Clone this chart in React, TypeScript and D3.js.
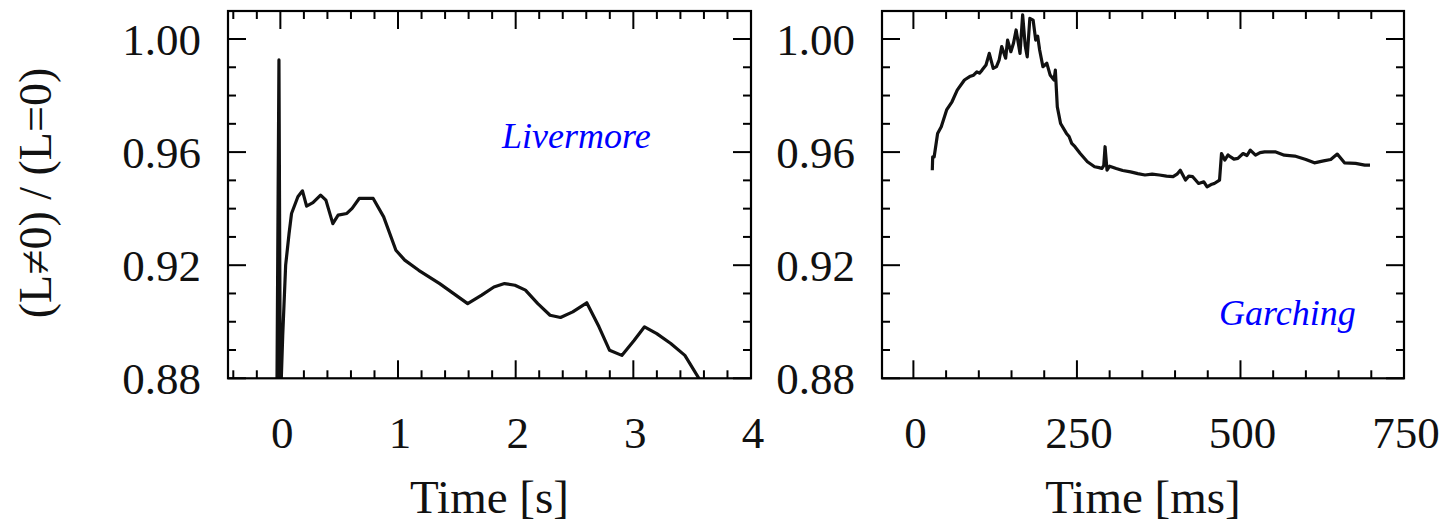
import React from "react";
import * as d3 from "d3";

// ---------- data ----------
const livermoreT = [-0.03, -0.012, 0.0, 0.02, 0.045, 0.074, 0.095, 0.149, 0.188, 0.223, 0.277, 0.342, 0.387, 0.446, 0.491, 0.565, 0.61, 0.67, 0.789, 0.878, 0.982, 1.057, 1.176, 1.354, 1.592, 1.711, 1.815, 1.905, 1.994, 2.083, 2.188, 2.292, 2.381, 2.485, 2.604, 2.708, 2.798, 2.902, 3.006, 3.095, 3.199, 3.318, 3.438, 3.557, 3.6];
const livermoreV = [0.87, 0.9926, 0.87, 0.895, 0.92, 0.9312, 0.9383, 0.9442, 0.9463, 0.9409, 0.9421, 0.9448, 0.943, 0.9347, 0.9377, 0.9383, 0.9401, 0.9436, 0.9436, 0.9371, 0.9253, 0.9218, 0.9182, 0.9135, 0.9064, 0.9094, 0.9123, 0.9135, 0.9129, 0.9112, 0.9064, 0.9023, 0.9015, 0.9035, 0.9067, 0.8982, 0.8899, 0.8881, 0.8934, 0.8982, 0.8958, 0.8923, 0.8881, 0.88, 0.875];

const garchingT = [28.9, 29.5, 31.7, 37, 42.6, 50.8, 59, 67, 78, 86, 92, 97, 101, 105, 111, 116, 122, 127, 131, 135, 141, 144, 149, 153, 157, 163, 167, 171, 174, 178, 183, 187, 190, 193, 198, 204, 209, 215, 217, 220, 225, 234, 238, 242, 247, 255, 266, 277, 284, 288, 291, 293, 296, 300, 310, 320, 332, 343, 354, 365, 376, 387, 397, 403, 408, 416, 421, 427, 436, 444, 449, 455, 460, 468, 471, 476, 481, 485, 490, 496, 504, 510, 515, 523, 530, 537, 553, 567, 583, 600, 613, 627, 638, 648, 659, 676, 690, 698];
const garchingV = [0.9536, 0.9583, 0.9583, 0.9666, 0.969, 0.9749, 0.9778, 0.9819, 0.9855, 0.9867, 0.9872, 0.9884, 0.9879, 0.989, 0.9908, 0.9949, 0.9896, 0.9902, 0.9925, 0.9973, 0.9932, 0.9996, 0.9955, 0.9985, 1.0032, 0.9949, 1.0085, 0.9975, 0.9937, 1.0073, 1.0067, 0.9996, 1.001, 0.9961, 0.9902, 0.9914, 0.9873, 0.9855, 0.989, 0.976, 0.9701, 0.9666, 0.9655, 0.9631, 0.9619, 0.9595, 0.9566, 0.9548, 0.9545, 0.9542, 0.9552, 0.9619, 0.9536, 0.955, 0.9542, 0.9535, 0.953, 0.9524, 0.9519, 0.9522, 0.9519, 0.9515, 0.9513, 0.9522, 0.9536, 0.9501, 0.9515, 0.9513, 0.9489, 0.9495, 0.9477, 0.9485, 0.9489, 0.9501, 0.9595, 0.9572, 0.959, 0.9583, 0.9575, 0.9578, 0.9595, 0.9588, 0.9607, 0.9589, 0.9598, 0.9601, 0.9601, 0.9589, 0.9586, 0.9574, 0.9562, 0.9569, 0.9574, 0.9593, 0.9562, 0.956, 0.9554, 0.9554];

const yTickLabels = ["0.88", "0.92", "0.96", "1.00"];
const leftXTickLabels = ["0", "1", "2", "3", "4"];
const rightXTickLabels = ["0", "250", "500", "750"];
const yTitle = "(L\u22600) / (L=0)";
const leftXTitle = "Time [s]";
const rightXTitle = "Time [ms]";
const leftName = "Livermore";
const rightName = "Garching";

// ---------- layout ----------
const TOP = 11;
const BOTTOM = 378.3;
const FONT = "'Liberation Serif', 'DejaVu Serif', serif";

type PanelProps = {
  x0: number;
  x1: number;
  domain: [number, number];
  majors: number[];
  minors: number[];
  xLabels: string[];
  t: number[];
  v: number[];
  title: string;
  name: string;
  nameX: number;
  nameY: number;
  id: string;
};

const yScale = d3.scaleLinear().domain([0.88, 1.0099]).range([BOTTOM, TOP]);
const yMajors = [0.88, 0.92, 0.96, 1.0];
const yMinors = d3.range(0.89, 1.0099, 0.01).filter((d) => !yMajors.some((m) => Math.abs(m - d) < 1e-6));

function Panel(p: PanelProps) {
  const x = d3.scaleLinear().domain(p.domain).range([p.x0, p.x1]);
  const pts: [number, number][] = p.t.map((t, i) => [t, p.v[i]]);
  const line = d3
    .line<[number, number]>()
    .x((d) => x(d[0]))
    .y((d) => yScale(d[1]));
  const MAJ = 18;
  const MIN = 8;
  const tickStyle = { stroke: "#000", strokeWidth: 2 };
  return (
    <g>
      <defs>
        <clipPath id={p.id}>
          <rect x={p.x0} y={TOP} width={p.x1 - p.x0} height={BOTTOM - TOP} />
        </clipPath>
      </defs>
      {p.majors.map((m, i) => (
        <g key={"M" + i}>
          <line x1={x(m)} x2={x(m)} y1={BOTTOM} y2={BOTTOM - MAJ} style={tickStyle} />
          <line x1={x(m)} x2={x(m)} y1={TOP} y2={TOP + MAJ} style={tickStyle} />
        </g>
      ))}
      {p.minors.map((m, i) => (
        <g key={"m" + i}>
          <line x1={x(m)} x2={x(m)} y1={BOTTOM} y2={BOTTOM - MIN} style={tickStyle} />
          <line x1={x(m)} x2={x(m)} y1={TOP} y2={TOP + MIN} style={tickStyle} />
        </g>
      ))}
      {yMajors.map((m, i) => (
        <g key={"yM" + i}>
          <line x1={p.x0} x2={p.x0 + MAJ} y1={yScale(m)} y2={yScale(m)} style={tickStyle} />
          <line x1={p.x1} x2={p.x1 - MAJ} y1={yScale(m)} y2={yScale(m)} style={tickStyle} />
        </g>
      ))}
      {yMinors.map((m, i) => (
        <g key={"ym" + i}>
          <line x1={p.x0} x2={p.x0 + MIN} y1={yScale(m)} y2={yScale(m)} style={tickStyle} />
          <line x1={p.x1} x2={p.x1 - MIN} y1={yScale(m)} y2={yScale(m)} style={tickStyle} />
        </g>
      ))}
      <path
        d={line(pts) || ""}
        fill="none"
        stroke="#111"
        strokeWidth={3.2}
        strokeLinejoin="round"
        clipPath={`url(#${p.id})`}
      />
      <rect x={p.x0} y={TOP} width={p.x1 - p.x0} height={BOTTOM - TOP} fill="none" stroke="#000" strokeWidth={2.2} />
      {yMajors.map((m, i) => (
        <text
          key={"yl" + i}
          x={p.x0 - 27}
          y={yScale(m)}
          dy="0.35em"
          textAnchor="end"
          fontFamily={FONT}
          fontSize={45}
          fill="#111"
        >
          {yTickLabels[i]}
        </text>
      ))}
      {p.majors.map((m, i) => (
        <text
          key={"xl" + i}
          x={x(m) + 2}
          y={432}
          dy="0.35em"
          textAnchor="middle"
          fontFamily={FONT}
          fontSize={45}
          fill="#111"
        >
          {p.xLabels[i]}
        </text>
      ))}
      <text
        x={(p.x0 + p.x1) / 2}
        y={497}
        dy="0.35em"
        textAnchor="middle"
        fontFamily={FONT}
        fontSize={47}
        fill="#111"
      >
        {p.title}
      </text>
      <text x={p.nameX} y={p.nameY} fontFamily={FONT} fontStyle="italic" fontSize={36} fill="#0000ff">
        {p.name}
      </text>
    </g>
  );
}

export default function App() {
  return (
    <svg
      width={1450}
      height={523}
      style={{ position: "absolute", left: 0, top: 0, background: "#fff" }}
    >
      <rect x={0} y={0} width={1450} height={523} fill="#fff" />
      <Panel
        id="clipL"
        x0={228}
        x1={751}
        domain={[-0.445, 4.0]}
        majors={[0, 1, 2, 3, 4]}
        minors={d3.range(-0.4, 3.9, 0.2).filter((d) => Math.abs(d - Math.round(d)) > 1e-6)}
        xLabels={leftXTickLabels}
        t={livermoreT}
        v={livermoreV}
        title={leftXTitle}
        name={leftName}
        nameX={502}
        nameY={148}
      />
      <Panel
        id="clipR"
        x0={882}
        x1={1404}
        domain={[-48, 750]}
        majors={[0, 250, 500, 750]}
        minors={d3.range(50, 750, 50).filter((d) => d % 250 !== 0)}
        xLabels={rightXTickLabels}
        t={garchingT}
        v={garchingV}
        title={rightXTitle}
        name={rightName}
        nameX={1219}
        nameY={325}
      />
      <text
        transform={`translate(35,193) rotate(-90)`}
        dy="0.35em"
        textAnchor="middle"
        fontFamily={FONT}
        fontSize={46}
        fill="#111"
      >
        {yTitle}
      </text>
    </svg>
  );
}
